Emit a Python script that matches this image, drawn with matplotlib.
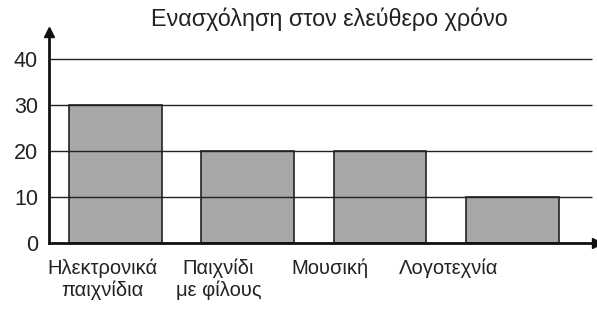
import numpy as np
import matplotlib
matplotlib.use('Agg')
import matplotlib.pyplot as plt

plt.rcParams['font.family'] = ['Liberation Sans', 'DejaVu Sans']

title = 'Ενασχόληση στον ελεύθερο χρόνο'
categories = ['Ηλεκτρονικά\nπαιχνίδια', 'Παιχνίδι\nμε φίλους', 'Μουσική', 'Λογοτεχνία']
values = [30, 20, 20, 10]
yticks = [0, 10, 20, 30, 40]

# labels sit a bit left of the bars in the original
label_shift = [-0.1, -0.22, -0.38, -0.48]

fig = plt.figure(figsize=(5.97, 3.11), dpi=100, facecolor='w')
ax = fig.add_axes([49 / 597, 1 - 243 / 311, 548 / 597, 211 / 311])

x = np.arange(len(values))
ax.bar(x, values, width=0.7, color='#a7a7aa', edgecolor='#222222', linewidth=1.2, zorder=2)
ax.hlines(yticks[1:], -0.5, 3.6, color='#222222', linewidth=1.0, zorder=3)

ax.set_xlim(-0.5, 3.64)
ax.set_ylim(0, 45.9)

for s in ['top', 'right']:
    ax.spines[s].set_visible(False)
for s in ['left', 'bottom']:
    ax.spines[s].set_linewidth(2)
    ax.spines[s].set_color('#111111')

# arrow heads
ax.plot(1, 0, '>', color='#111111', markersize=7, transform=ax.transAxes, clip_on=False)
ax.plot(0, 1, '^', color='#111111', markersize=7, transform=ax.transAxes, clip_on=False)

ax.set_yticks(yticks)
ax.set_yticklabels([str(v) for v in yticks], fontsize=15.5, color='#222222')
ax.tick_params(axis='y', length=0, pad=8)
ax.set_xticks(x + np.array(label_shift))
ax.set_xticklabels(categories, fontsize=14.5, linespacing=1.15, color='#222222')
ax.tick_params(axis='x', length=0, pad=11)

fig.text(329 / 597, 1 - 19 / 311, title, ha='center', va='center', fontsize=16.8, color='#222222')

fig.savefig('out.png', dpi=100)
